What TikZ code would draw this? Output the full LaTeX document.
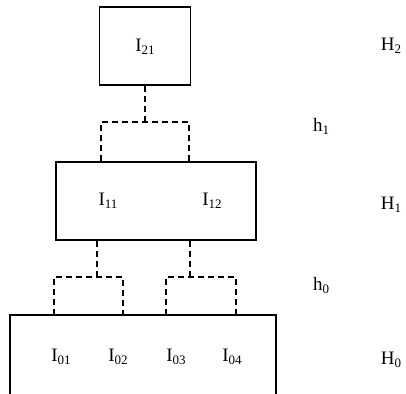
\documentclass[tikz,border=0pt]{standalone}
\usepackage{fontspec}
\setmainfont{Liberation Serif}
% lowered index digits, set a little larger than \textsubscript
\newcommand\idx[1]{\raisebox{-3pt}{\fontsize{13}{13}\selectfont #1}}
\begin{document}
\begin{tikzpicture}[x=1pt,y=1pt,
  blk/.style={draw, line width=1.5pt, minimum width=#1, minimum height=78pt, inner sep=0pt},
  link/.style={line width=1.3pt, dash pattern=on 6pt off 4pt},
  frame/.style={line width=1.5pt},
  lbl/.style={font=\fontsize{19}{22}\selectfont, inner sep=0pt}]
\useasboundingbox (0,0) rectangle (406,393);

% level 2 block
\node[blk=91pt] (top) at (145,347) {};
\node[lbl] (i21) at (145,346) {I\idx{21}};

% level 1 block
\node[blk=200pt] (mid) at (156,192) {};
\node[lbl] (i11) at (108,192) {I\idx{11}};
\node[lbl] (i12) at (212,192) {I\idx{12}};

% level 0 block, open at the bottom
\node[minimum width=266pt, minimum height=100pt, inner sep=0pt, anchor=north] (base) at (143,78) {};
\draw[frame] (base.south west) |- (base.north east) -- (base.south east);
\node[lbl] (i01) at (61,36) {I\idx{01}};
\node[lbl] (i02) at (118,36) {I\idx{02}};
\node[lbl] (i03) at (176,36) {I\idx{03}};
\node[lbl] (i04) at (232,36) {I\idx{04}};

% dashed links between levels
\coordinate (j2) at (145,271);
\coordinate (j2l) at (101,271);
\coordinate (j2r) at (189,271);
\draw[link] (top.south) -- (j2);
\draw[link] (mid.north -| j2l) |- (j2r) -- (mid.north -| j2r);

\coordinate (ja) at (97,116);
\coordinate (jal) at (54,116);
\coordinate (jar) at (123,116);
\draw[link] (mid.south -| ja) -- (ja);
\draw[link] (base.north -| jal) |- (jar) -- (base.north -| jar);

\coordinate (jb) at (190,116);
\coordinate (jbl) at (166,116);
\coordinate (jbr) at (236,116);
\draw[link] (mid.south -| jb) -- (jb);
\draw[link] (base.north -| jbl) |- (jbr) -- (base.north -| jbr);

% level names
\node[lbl] (H2) at (391,347) {H\idx{2}};
\node[lbl] (h1) at (321,267) {h\idx{1}};
\node[lbl] (H1) at (391,188) {H\idx{1}};
\node[lbl] (h0) at (321,108) {h\idx{0}};
\node[lbl] (H0) at (391,33) {H\idx{0}};
\end{tikzpicture}
\end{document}
